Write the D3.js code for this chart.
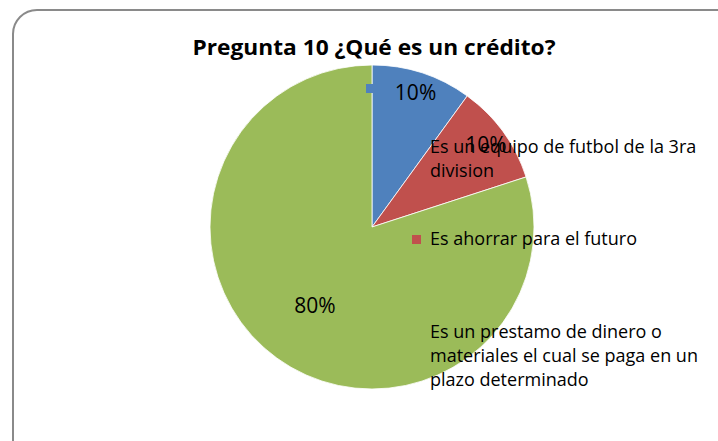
<!DOCTYPE html>
<html>
<head>
<meta charset="utf-8">
<script src="https://cdn.jsdelivr.net/npm/d3@7"></script>
<style>
  body { margin: 0; background: #fff; }
  svg { display: block; font-family: "Open Sans", "Noto Sans", sans-serif; }
</style>
</head>
<body>
<div id="chart"></div>
<script>
// data
const title = "Pregunta 10 ¿Qué es un crédito?";
const categories = [
  "Es un equipo de futbol de la 3ra\ndivision",
  "Es ahorrar para el futuro",
  "Es un prestamo de dinero o\nmateriales el cual se paga en un\nplazo determinado"
];
const values = [10, 10, 80];
const colors = ["#4F81BD", "#C0504D", "#9BBB59"];

const width = 718, height = 441;
const cx = 372, cy = 227, radius = 162;

const svg = d3.select("#chart").append("svg")
  .attr("width", width)
  .attr("height", height);

// frame (rounded, cropped at right/bottom like the original)
svg.append("rect")
  .attr("x", 13).attr("y", 10)
  .attr("width", 740).attr("height", 460)
  .attr("rx", 24)
  .attr("fill", "#fff")
  .attr("stroke", "#8a8a8a")
  .attr("stroke-width", 2);

svg.append("text")
  .attr("x", 374)
  .attr("y", 55)
  .attr("text-anchor", "middle")
  .attr("font-size", 21.5)
  .attr("font-weight", "bold")
  .attr("textLength", 363)
  .attr("lengthAdjust", "spacingAndGlyphs")
  .text(title);

const total = d3.sum(values);
const pie = d3.pie().sort(null).value(d => d);
const arcs = pie(values);
const arc = d3.arc().innerRadius(0).outerRadius(radius);

const g = svg.append("g").attr("transform", `translate(${cx},${cy})`);

g.selectAll("path.slice")
  .data(arcs)
  .enter()
  .append("path")
  .attr("class", "slice")
  .attr("d", arc)
  .attr("fill", (d, i) => colors[i])
  .attr("stroke", "#fff")
  .attr("stroke-width", 0.8);

// percentage labels
const labelR = d => (d.endAngle - d.startAngle) > Math.PI ? radius * 0.6 : radius * 0.87;
g.selectAll("text.pct")
  .data(arcs)
  .enter()
  .append("text")
  .attr("class", "pct")
  .attr("transform", d => {
    const a = (d.startAngle + d.endAngle) / 2;
    const r = labelR(d);
    return `translate(${Math.sin(a) * r},${-Math.cos(a) * r})`;
  })
  .attr("text-anchor", "middle")
  .attr("dy", "0.35em")
  .attr("font-size", 21)
  .attr("fill", "#000")
  .text(d => Math.round(d.data / total * 100) + "%");

// legend (Excel dropped it on top of the pie)
const legendPos = [
  { mx: 366, my: 84, tx: 430, ty: 153 },
  { mx: 412, my: 235, tx: 430, ty: 245 },
  { mx: 412, my: 327, tx: 430, ty: 338 }
];
const lineH = 24;

const leg = svg.selectAll("g.legend")
  .data(categories)
  .enter()
  .append("g")
  .attr("class", "legend");

leg.append("rect")
  .attr("x", (d, i) => legendPos[i].mx)
  .attr("y", (d, i) => legendPos[i].my)
  .attr("width", 9)
  .attr("height", 9)
  .attr("fill", (d, i) => colors[i]);

leg.each(function (d, i) {
  const t = d3.select(this).append("text")
    .attr("x", legendPos[i].tx)
    .attr("y", legendPos[i].ty)
    .attr("font-size", 18)
    .attr("fill", "#000");
  d.split("\n").forEach((line, k) => {
    t.append("tspan")
      .attr("x", legendPos[i].tx)
      .attr("dy", k === 0 ? 0 : lineH)
      .text(line);
  });
});
</script>
</body>
</html>
